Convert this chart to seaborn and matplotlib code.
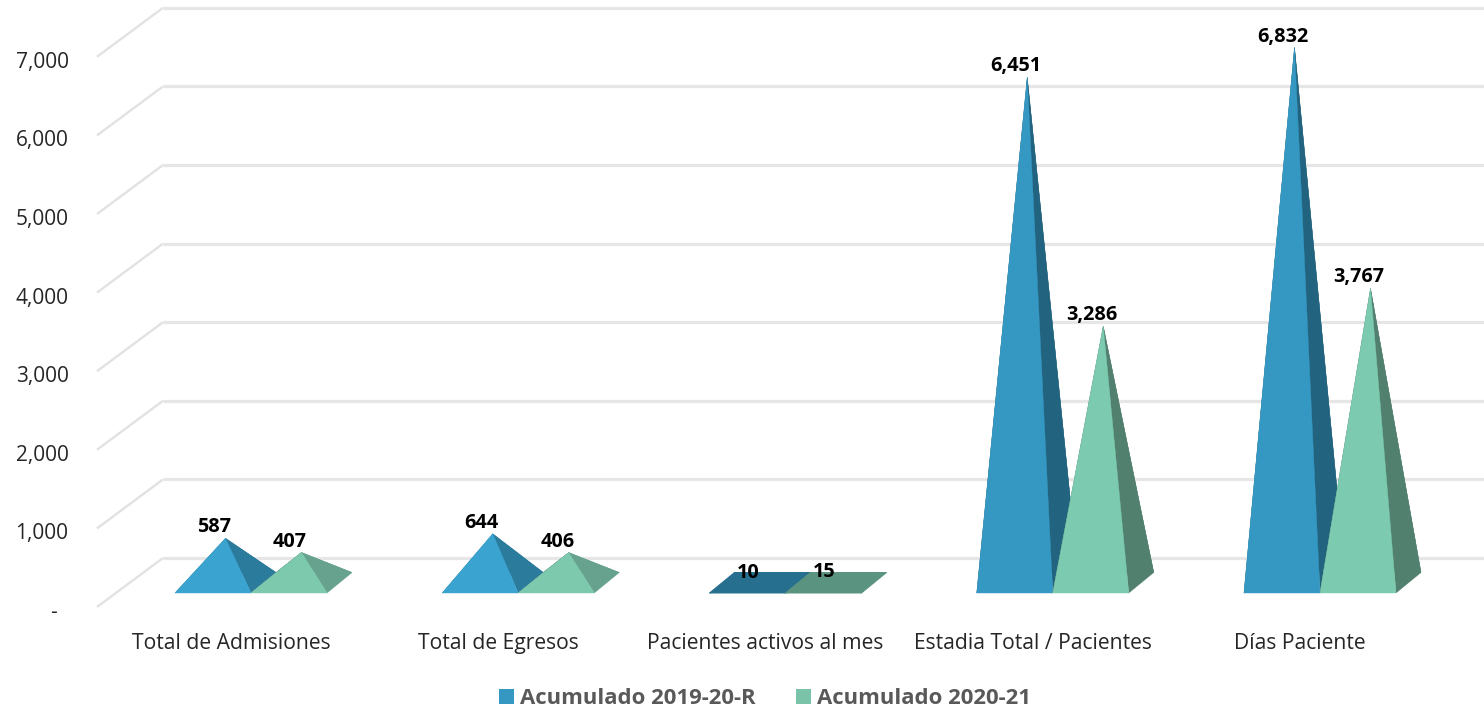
import matplotlib
matplotlib.use("Agg")
import matplotlib.pyplot as plt
import pandas as pd
import seaborn as sns
from matplotlib.patches import Patch, Polygon
from matplotlib.ticker import FuncFormatter
from matplotlib.transforms import ScaledTranslation

categories = ["Total de Admisiones", "Total de Egresos", "Pacientes activos al mes",
              "Estadia Total / Pacientes", "Días Paciente"]
series_names = ["Acumulado 2019-20-R", "Acumulado 2020-21"]
values_2019 = [587, 644, 10, 6451, 6832]
values_2020 = [407, 406, 15, 3286, 3767]
y_ticks = [0, 1000, 2000, 3000, 4000, 5000, 6000, 7000]

W, H = 1484, 711
PX_PER_CAT = 267.25
PX_PER_VAL = 0.0786
AX_L, AX_B = 97, 607
CAT0_PX = 231


def dx(px):
    return px / PX_PER_CAT


def dy(px):
    return px / PX_PER_VAL


sns.set_theme(style="white")
plt.rcParams["font.family"] = ["Open Sans", "DejaVu Sans"]

df = pd.DataFrame({
    "categoria": categories * 2,
    "serie": [series_names[0]] * 5 + [series_names[1]] * 5,
    "valor": values_2019 + values_2020,
})

fig = plt.figure(figsize=(W / 100, H / 100), dpi=100)
ax = fig.add_axes([AX_L / W, (H - AX_B) / H, (W - AX_L) / W, AX_B / H])
sns.barplot(data=df, x="categoria", y="valor", hue="serie", order=categories,
            hue_order=series_names, width=152 / PX_PER_CAT, gap=0, dodge=True,
            legend=False, ax=ax, errorbar=None)

# shade triples per series: tall front/side, low front/side, flat top
shades = [
    {"tall": ("#3598c2", "#22637f"), "low": ("#3aa3cf", "#2b7b9d"), "flat": "#266f8f"},
    {"tall": ("#7ccab0", "#52806f"), "low": ("#7dc9ad", "#66a28e"), "flat": "#5a9480"},
]
legend_colors = ["#3598c2", "#7ac2a8"]

ax.set_xlim(dx(AX_L - CAT0_PX), dx(W - CAT0_PX))
ax.set_ylim(0, dy(AX_B))

# walls: back gridlines and diagonal floor/side lines
depth_x, depth_y = dx(66), dy(49)
x_left = ax.get_xlim()[0]
x_right = ax.get_xlim()[1]
for t in y_ticks:
    ax.plot([x_left + depth_x, x_right], [t + depth_y] * 2, color="#e6e6e6", lw=2.3,
            solid_capstyle="butt", zorder=1, clip_on=False)
    ax.plot([x_left, x_left + depth_x], [t, t + depth_y], color="#e2e2e2", lw=1.7,
            solid_capstyle="butt", zorder=1, clip_on=False)

# pyramids, derived from the seaborn bars
bars = list(ax.patches)
base_shift = dx(20)
base_y = dy(14)
center_y = dy(22.5)
off_x, off_y = dx(25), dy(20.5)
n = len(categories)
for idx, bar in enumerate(bars[:2 * n]):
    s = idx // n
    v = bar.get_height()
    x0 = bar.get_x() + base_shift
    x1 = x0 + bar.get_width()
    xc = (x0 + x1 + off_x) / 2
    apex = (xc, center_y + v)
    fl, fr = (x0, base_y), (x1, base_y)
    bl, br = (x0 + off_x, base_y + off_y), (x1 + off_x, base_y + off_y)
    if v < 100:
        front = side = shades[s]["flat"]
    elif v < 1000:
        front, side = shades[s]["low"]
    else:
        front, side = shades[s]["tall"]
    z = 3 + s
    for pts, col in [((bl, br, apex), side), ((fl, bl, apex), side),
                     ((fr, br, apex), side), ((fl, fr, apex), front)]:
        ax.add_patch(Polygon(pts, closed=True, facecolor=col, edgecolor=col,
                             lw=0.7 if v < 100 else 0.3, zorder=z))
    ax.annotate(f"{v:,.0f}", xy=((x0 + x1) / 2, center_y + v), xytext=(0.7, 7.9),
                textcoords="offset points", ha="center", va="center",
                fontsize=14.3, fontweight="bold", color="black", zorder=6)
    bar.set_visible(False)

ax.set_yticks(y_ticks)
ax.yaxis.set_major_formatter(
    FuncFormatter(lambda v, _: "-\u00a0\u00a0" if v == 0 else f"{v:,.0f}"))
ax.tick_params(axis="y", length=0, pad=20.5, labelsize=15, labelcolor="#262626")
ax.tick_params(axis="x", length=0, pad=18.5, labelsize=15.2, labelcolor="#262626")
ax.set_xlabel("")
ax.set_ylabel("")
sns.despine(ax=ax, left=True, bottom=True)
ax.patch.set_alpha(0)
shift_down = ScaledTranslation(0, -2.2 / 72, fig.dpi_scale_trans)
for lab in ax.get_yticklabels():
    lab.set_transform(lab.get_transform() + shift_down)

handles = [Patch(facecolor=c, edgecolor="none") for c in legend_colors]
fig.legend(handles, series_names, loc="center", bbox_to_anchor=(765 / W, 1 - 699 / H),
           ncol=2, frameon=False, handlelength=0.68, handleheight=0.68, handletextpad=0.27,
           columnspacing=1.85, prop={"family": "Open Sans", "weight": "bold", "size": 15.9},
           labelcolor="#595959")

fig.savefig("out.png", dpi=100)
